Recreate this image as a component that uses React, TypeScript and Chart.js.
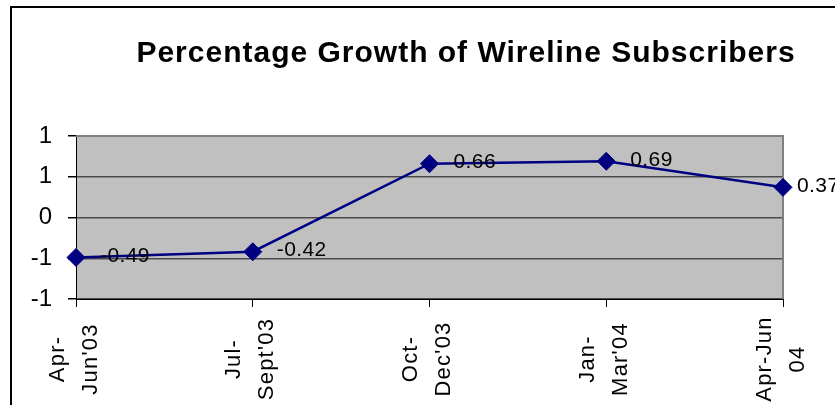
import { useEffect, useRef } from "react";
import { Chart, registerables } from "chart.js";

Chart.register(...registerables);

const TITLE = "Percentage Growth of Wireline Subscribers";
const categories = ["Apr-\nJun'03", "Jul-\nSept'03", "Oct-\nDec'03", "Jan-\nMar'04", "Apr-Jun\n04"];
const growth = [-0.49, -0.42, 0.66, 0.69, 0.37];
const valueLabels = ["-0.49", "-0.42", "0.66", "0.69", "0.37"];
const yTickLabels = ["-1", "-1", "0", "1", "1"];
const Y_MIN = -1;
const Y_MAX = 1;
const Y_STEP = 0.5;

const FONT = "'Liberation Sans', Arial, sans-serif";
const W = 932;
const H = 420;

const decor = {
  id: "decor",
  beforeDraw(chart: any) {
    const { ctx, chartArea: a } = chart;
    ctx.save();
    ctx.fillStyle = "#ffffff";
    ctx.fillRect(0, 0, chart.width, chart.height);
    ctx.fillStyle = "#C0C0C0";
    ctx.fillRect(a.left, a.top, a.right - a.left, a.bottom - a.top);
    ctx.restore();
  },
  beforeDatasetsDraw(chart: any) {
    const { ctx, chartArea: a } = chart;
    ctx.save();
    ctx.strokeStyle = "#808080";
    ctx.lineWidth = 2;
    ctx.beginPath();
    ctx.moveTo(a.left, a.top);
    ctx.lineTo(a.right, a.top);
    ctx.lineTo(a.right, a.bottom);
    ctx.stroke();
    ctx.restore();
  },
  afterDraw(chart: any) {
    const { ctx, chartArea: a, scales } = chart;
    const xs = scales.x;
    const ys = scales.y;
    ctx.save();
    // value labels
    ctx.fillStyle = "#000";
    ctx.font = `21px ${FONT}`;
    (ctx as any).letterSpacing = "0.4px";
    ctx.textAlign = "left";
    ctx.textBaseline = "middle";
    const last = growth.length - 1;
    growth.forEach((v, i) => {
      const px = xs.getPixelForValue(i);
      const py = ys.getPixelForValue(v);
      const dx = i === last ? 14 : 24;
      ctx.fillText(valueLabels[i], px + dx, py - 1.5);
    });
    // category labels, rotated
    ctx.font = `22px ${FONT}`;
    (ctx as any).letterSpacing = "1.2px";
    ctx.textAlign = "center";
    categories.forEach((c, i) => {
      const px = xs.getPixelForValue(i);
      const lines = c.split("\n");
      ctx.save();
      ctx.translate(px - 2, a.bottom + 60);
      ctx.rotate(-Math.PI / 2);
      lines.forEach((ln, j) => {
        ctx.fillText(ln, 0, (j - (lines.length - 1) / 2) * 33);
      });
      ctx.restore();
    });
    // title
    ctx.font = `bold 30px ${FONT}`;
    (ctx as any).letterSpacing = "1px";
    ctx.textAlign = "center";
    ctx.textBaseline = "middle";
    ctx.fillText(TITLE, chart.width / 2, 54);
    (ctx as any).letterSpacing = "0px";
    // frame
    ctx.strokeStyle = "#000";
    ctx.lineWidth = 2;
    ctx.strokeRect(11, 7, chart.width - 22, chart.height - 14);
    ctx.restore();
  },
};

export default function App() {
  const ref = useRef<HTMLCanvasElement | null>(null);
  useEffect(() => {
    if (!ref.current) return;
    const chart = new Chart(ref.current, {
      type: "line",
      data: {
        labels: categories,
        datasets: [
          {
            data: growth,
            borderColor: "#000080",
            backgroundColor: "#000080",
            borderWidth: 2.5,
            tension: 0,
            pointStyle: "rectRot",
            pointRadius: 9,
            pointBackgroundColor: "#000080",
            pointBorderColor: "#000080",
            pointBorderWidth: 1,
          },
        ],
      },
      options: {
        animation: false,
        responsive: false,
        devicePixelRatio: 1,
        layout: { padding: { top: 136, right: 149, bottom: 113, left: 0 } },
        plugins: {
          legend: { display: false },
          title: { display: false },
          tooltip: { enabled: false },
        },
        scales: {
          x: {
            type: "category",
            offset: false,
            grid: {
              drawOnChartArea: false,
              drawTicks: true,
              tickLength: 8,
              tickColor: "#000",
              offset: false,
            },
            border: { display: true, color: "#000", width: 1 },
            ticks: { display: false },
          },
          y: {
            min: Y_MIN,
            max: Y_MAX,
            afterFit(scale: any) {
              scale.width = 76;
            },
            grid: {
              color: "#4a4a4a",
              lineWidth: 1.5,
              tickLength: 8,
              tickColor: "#000",
            },
            border: { display: true, color: "#000", width: 1 },
            ticks: {
              stepSize: Y_STEP,
              padding: 16,
              color: "#000",
              font: { family: FONT, size: 24 },
              callback: (_v: any, i: number) => yTickLabels[i],
            },
          },
        },
      },
      plugins: [decor],
    });
    return () => chart.destroy();
  }, []);
  return (
    <div
      style={{
        position: "absolute",
        left: 0,
        top: 0,
        width: 835,
        height: 405,
        overflow: "hidden",
        background: "#fff",
      }}
    >
      <canvas ref={ref} width={W} height={H} style={{ width: W, height: H, display: "block" }} />
    </div>
  );
}
